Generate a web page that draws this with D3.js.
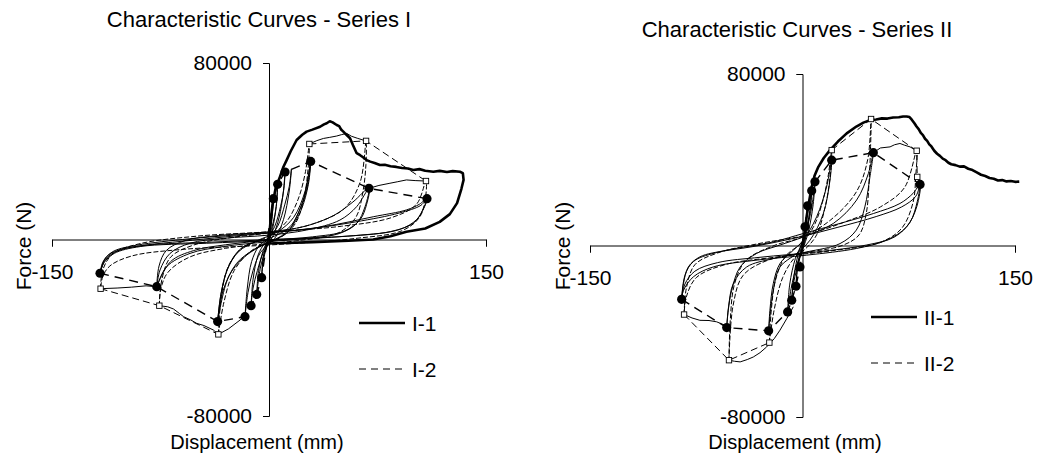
<!DOCTYPE html>
<html>
<head>
<meta charset="utf-8">
<script src="https://cdn.jsdelivr.net/npm/d3@7"></script>
<style>
body { margin: 0; background: #fff; }
text { font-family: "Liberation Sans", Arial, sans-serif; font-size: 21px; fill: #000; }
.titulo { font-size: 22px; }
.etiqueta { font-size: 20px; }
.domain, .tick line { stroke: #000; stroke-width: 1; }
</style>
</head>
<body>
<div id="chart"></div>
<script>
//Ticks
const dispTicks = [-150, 150]
const forceTicks = [-80000, 80000]

// ---------- Series I ----------
// hysteresis loops, specimen I-1 (thin solid)
const loopsI1 = [
  [[-116.8,-15300],[-115,-10500],[-111,-7000],[-102,-4500],[-85,-2500],[-60,-800],[-30,1200],[0,3000],[37.6,5800],[72,10300],[95,13400],[104,16000],[109.2,18500],[106.5,13500],[100,7500],[84,3600],[49,1300],[0,-500],[-43,-1700],[-89,-3200],[-107,-6300],[-114,-10500],[-116.8,-15300]],
  [[-116.8,-15300],[-114,-9500],[-108,-5500],[-95,-3000],[-60,0],[-20,2200],[20,4200],[60,8000],[90,12000],[105,15500],[109.2,18500],[107,14500],[102,9000],[90,4500],[60,1800],[10,200],[-40,-1200],[-85,-2600],[-104,-5000],[-113,-9000],[-116.8,-15300]],
  [[-77.6,-21400],[-75.3,-13800],[-68.4,-6300],[-54.6,-1700],[-31.6,500],[0,2000],[26,4300],[49,8800],[60.6,14900],[69.1,23200],[66.4,14900],[60.6,7300],[49,2800],[26,500],[0,-1000],[-31.6,-3200],[-54.6,-6300],[-70.7,-12300],[-77.6,-21400]],
  [[-77.6,-21400],[-76,-12000],[-71,-5000],[-58,-500],[-35,1800],[0,3500],[25,6000],[45,11000],[58,17000],[69.1,23200],[67.5,16000],[63,9000],[52,3800],[30,1200],[0,-300],[-30,-2400],[-52,-5000],[-68,-10000],[-77.6,-21400]],
  [[-35.5,-37200],[-32.7,-22900],[-27,-10800],[-17.7,-3200],[0,500],[14.5,5800],[23.7,17900],[28.8,35400],[26,22400],[19,10300],[12.2,2800],[0,-1000],[-10.8,-4700],[-22.4,-10800],[-31.6,-22900],[-35.5,-37200]],
  [[-35.5,-37200],[-33.5,-26000],[-29,-14000],[-21,-5500],[-8,-500],[6,3500],[17,10000],[25,22000],[28.8,35400],[27.2,25000],[22,13000],[14,4500],[3,-500],[-7,-3500],[-18,-8500],[-28,-17000],[-35.5,-37200]],
  [[-16.6,-35000],[-15,-22000],[-12,-10000],[-7,-3000],[0,1000],[6,6000],[11,16000],[14,24000],[15.5,32000],[14,22000],[10,9000],[5,1500],[0,-2000],[-6,-6000],[-11,-14000],[-14.5,-24000],[-16.6,-35000]],
  [[-12.4,-30000],[-11,-18000],[-7.5,-7000],[-3,-1500],[0,1500],[4,6000],[8,15000],[10.3,23000],[11.1,30600],[9.8,21000],[7,10000],[3,2000],[0,-1500],[-4,-6000],[-8,-14000],[-11,-22000],[-12.4,-30000]],
  [[-8.5,-24900],[-7.2,-14000],[-4,-5000],[0,1000],[3,8000],[5,15000],[6,25000],[5,15000],[2.5,5000],[0,-1000],[-3,-6000],[-6,-13000],[-8.5,-24900]],
  [[-5.1,-17300],[-4,-8000],[-1.5,-1500],[0,2000],[1.5,8000],[3,18500],[2,9000],[0,1000],[-2,-4000],[-4,-10000],[-5.1,-17300]]
]
// last excursion of I-1 (thick)
const finalI1 = [[0,0],[1,8000],[2.5,16000],[4.5,23000],[7.6,28500],[10,33000],[12.2,36000],[15,40000],[19.1,45100],[23,47500],[26,48900],[30,49800],[35.3,51100],[38,52200],[39.9,52700],[42,53600],[44,53100],[46.8,51900],[48.5,51400],[50,49700],[51.4,48900],[53,47800],[56,45900],[58,42800],[60.6,39100],[63,38200],[65,37300],[67.5,36000],[70,35300],[73,34700],[76.7,33800],[80,33900],[84,33200],[88,32900],[92,32400],[96,32200],[99.8,31500],[104,31900],[108,31200],[113.6,30700],[118,31100],[123,30600],[127,31000],[132,30700],[134,30100],[134.5,27000],[133,23000],[130,16500],[125,11500],[118,8000],[108,5000],[95,3500],[84,1500],[72,0],[55,-600],[30,-1200],[0,-1800]]
// hysteresis loops, specimen I-2 (thin dashed)
const loopsI2 = [
  [[-116.4,-22300],[-115,-14000],[-108,-6500],[-90,-2000],[-50,1500],[0,3500],[50,6000],[85,10000],[102,16000],[108.5,26500],[108,18000],[104,10000],[92,4000],[60,500],[0,-2500],[-60,-4500],[-95,-7500],[-110,-12000],[-115,-17000],[-116.4,-22300]],
  [[-75.8,-30000],[-74,-18000],[-68,-8000],[-52,-2500],[-25,1000],[0,3000],[30,7000],[52,14000],[63,26000],[67.1,44700],[67,34000],[65,22000],[60,10000],[48,3000],[20,-500],[0,-1800],[-30,-4000],[-55,-8000],[-70,-15000],[-75,-23000],[-75.8,-30000]],
  [[-35,-43000],[-33,-26000],[-28,-12000],[-18,-3500],[0,1500],[12,8000],[20,18000],[25,30000],[27.9,43300],[27,32000],[24,18000],[18,7000],[8,1000],[0,-1500],[-12,-5000],[-24,-14000],[-31,-28000],[-35,-43000]]
]
// raw traces between the peaks (thin, jagged)
const tracesI = [
  [[-116.4,-22300],[-105,-22000],[-95,-21600],[-85,-21000],[-77.6,-21400]],
  [[-75.8,-30000],[-70,-30500],[-66,-31500],[-62,-33500],[-59,-35000],[-54,-36500],[-50,-38000],[-45,-39000],[-38.5,-41000],[-35,-43000],[-28,-40500],[-20,-36500],[-15.4,-33500]],
  [[27.9,43300],[33,44800],[37.6,45800],[42,46300],[46.8,46900],[50,47500],[53.7,48100],[57,46800],[61,45900],[66.4,44800]],
  [[69.1,23200],[76,24500],[83.6,25500],[89,26200],[95,27000],[101,26700],[108.5,26500]]
]
const circlesI = [[-116.8,-15300],[-77.6,-21400],[-35.5,-37200],[-16.6,-35000],[-12.4,-30000],[-8.5,-24900],[-5.1,-17300],[3,18500],[6,25000],[11.1,30600],[28.8,35400],[69.1,23200],[109.2,18500]]
const squaresNegI = [[-116.4,-22300],[-75.8,-30000],[-35,-43000]]
const squaresPosI = [[27.9,43300],[67.1,44700],[108.5,26500]]

// ---------- Series II ----------
const loopsII1 = [
  [[-85.3,-25100],[-84,-17700],[-80.6,-10000],[-72.4,-5300],[-53.5,-2200],[-20.6,1700],[0.6,5600],[26.5,10300],[50,14900],[68.8,19600],[78,24300],[83,28500],[80.6,18000],[73.5,8700],[59.4,2500],[38,-1400],[3,-4500],[-32,-6800],[-63,-10000],[-77,-14600],[-84,-20900],[-85.3,-25100]],
  [[-85.3,-25100],[-83,-14000],[-77,-7500],[-62,-3500],[-35,-500],[-5,3500],[25,8500],[52,13500],[70,18000],[80,23000],[83,28500],[81,20500],[76,11000],[65,4000],[45,200],[10,-3000],[-30,-5500],[-60,-8000],[-76,-12000],[-83,-18000],[-85.3,-25100]],
  [[-53.5,-38300],[-52.4,-30200],[-50,-20900],[-44,-10000],[-32.4,-3700],[-15.9,200],[0.6,4000],[21.8,10300],[38.2,21200],[46.5,33600],[50,43300],[47.6,32000],[44,18000],[38,7200],[26.5,900],[3,-3000],[-20.6,-6100],[-39.4,-10000],[-48.8,-17700],[-52.2,-28600],[-53.5,-38300]],
  [[-23.9,-39800],[-23,-30200],[-20.6,-17700],[-15.9,-8400],[-6.5,-2200],[0.6,2500],[10,13400],[17,27400],[20.6,39800],[19.4,30500],[14.7,14900],[5.3,2500],[-4.1,-3700],[-15.9,-10000],[-20.6,-20900],[-23.9,-39800]],
  [[-10.5,-31000],[-9,-18000],[-5,-6000],[0,1500],[4,10000],[7,20000],[8.8,29700],[7.5,19000],[4,6000],[0,-2000],[-4,-9000],[-8,-20000],[-10.5,-31000]],
  [[-7.6,-25500],[-6,-14000],[-3,-4000],[0,2000],[3,9000],[5.5,17000],[6.5,25500],[5,15000],[2,3000],[-1,-3500],[-4,-11000],[-6.5,-18000],[-7.6,-25500]],
  [[-4.6,-19000],[-3.5,-9000],[-1,-1500],[1,4000],[2.5,11000],[3.6,18500],[2.5,10000],[0.5,1000],[-2,-6000],[-3.8,-12500],[-4.6,-19000]]
]
const finalII1 = [[0,0],[1.5,6000],[2.9,13400],[4.5,20000],[6.5,27400],[8.5,32500],[11.2,36700],[15,40800],[19.4,44500],[25,48500],[31.2,52300],[38,55500],[43,57300],[47.6,58500],[52,58800],[56,59300],[60,59200],[64,59700],[68,59800],[71,60200],[73.5,60200],[75.5,59900],[77,58800],[79,57000],[80.5,55500],[82,54300],[83.5,52500],[85,51500],[86.5,49800],[88,48800],[89.5,47200],[91,46200],[93,44200],[95,42800],[97,41800],[99,40500],[101,39800],[103,38600],[105,37900],[108,37500],[111,36800],[114,36900],[117,35800],[120,35200],[123,34100],[126,33000],[129,32400],[132,31500],[135,31100],[138,30300],[141,30500],[144,29900],[147,30100],[150,29700],[153,29800]]
const loopsII2 = [
  [[-83.6,-32200],[-82,-20000],[-76,-9000],[-60,-3500],[-30,1000],[0,4500],[30,11000],[55,18000],[72,27000],[80.6,44200],[80,33000],[78,20000],[70,8000],[55,1500],[20,-2500],[-20,-5500],[-55,-9000],[-75,-15000],[-82,-24000],[-83.6,-32200]],
  [[-51.9,-53500],[-51,-35000],[-48,-18000],[-40,-7000],[-20,0],[0,4000],[20,12000],[38,25000],[46,40000],[48.4,59000],[48,45000],[47,30000],[45,15000],[40,5000],[28,0],[0,-3500],[-25,-7000],[-42,-14000],[-49,-28000],[-51.9,-53500]],
  [[-23.4,-45300],[-22,-30000],[-19,-16000],[-12,-5000],[0,1500],[8,9000],[14,20000],[18,32000],[20.6,44500],[19.5,32000],[16,18000],[10,5000],[3,-1000],[-6,-6000],[-14,-15000],[-20,-30000],[-23.4,-45300]]
]
const tracesII = [
  [[-83.6,-32200],[-78,-33800],[-72.4,-34900],[-66,-35000],[-60.6,-35600],[-54.7,-37200],[-53.5,-38300]],
  [[-51.9,-53500],[-48,-54000],[-44,-54300],[-39,-53200],[-34.7,-52000],[-30,-50000],[-25.3,-47300],[-20,-43500],[-15.9,-39500],[-11,-34000],[-6.5,-28600]],
  [[50,43300],[55,45500],[61.8,46000],[65,47000],[68.8,47600],[72,46800],[75.9,46000],[80.6,44200]]
]
const circlesII = [[-85.3,-25100],[-53.5,-38300],[-23.9,-39800],[-10.5,-31000],[-7.6,-25500],[-4.6,-19000],[-1.8,-10000],[1.8,8700],[3.6,18500],[6.5,25500],[8.8,29700],[20.6,39800],[50,43300],[83,28500]]
const squaresNegII = [[-83.6,-32200],[-51.9,-53500],[-23.4,-45300]]
const squaresPosII = [[20.6,44500],[48.4,59000],[80.6,44200],[81,32000]]

//svg
const svg = d3.select("#chart")
    .append("svg")
    .attr("width", 1037)
    .attr("height", 454)

function drawChart(c) {
    const x = d3.scaleLinear().domain([-150, 150]).range(c.xRange)
    const y = d3.scaleLinear().domain([-80000, 80000]).range(c.yRange)
    const g = svg.append("g")

    const smooth = d3.line().x(d => x(d[0])).y(d => y(d[1])).curve(d3.curveCatmullRom.alpha(0.5))
    const jag = d3.line().x(d => x(d[0])).y(d => y(d[1]))

    //Ejes
    g.append("g")
        .attr("transform", `translate(0, ${y(0)})`)
        .call(d3.axisBottom(x).tickValues(dispTicks).tickSize(7).tickSizeOuter(7).tickPadding(18).tickFormat(d => d))
    g.append("g")
        .attr("transform", `translate(${x(0)}, 0)`)
        .call(d3.axisLeft(y).tickValues(forceTicks).tickSize(6).tickSizeOuter(6).tickPadding(11).tickFormat(d => d))
        .selectAll(".tick text").attr("dy", "0.33em")

    const curves = g.append("g").attr("fill", "none").attr("stroke", "#000")

    curves.selectAll(".loop2")
        .data(c.loops2).enter().append("path")
        .attr("d", smooth)
        .attr("stroke-width", 1)
        .attr("stroke-dasharray", "5,2")
    curves.selectAll(".loop1")
        .data(c.loops1).enter().append("path")
        .attr("d", smooth)
        .attr("stroke-width", 1)
    curves.selectAll(".trace")
        .data(c.traces).enter().append("path")
        .attr("d", jag)
        .attr("stroke-width", 1)
    curves.append("path")
        .datum(c.final1)
        .attr("d", jag)
        .attr("stroke-width", 2.6)
        .attr("stroke-linejoin", "round")

    // envelopes
    curves.append("path").datum(c.circles).attr("d", jag)
        .attr("stroke-width", 1.4).attr("stroke-dasharray", "9,6")
    curves.selectAll(".sqEnv").data([c.squaresNeg, c.squaresPos]).enter().append("path")
        .attr("d", jag).attr("stroke-width", 1).attr("stroke-dasharray", "7,4")

    g.selectAll(".circ").data(c.circles).enter().append("circle")
        .attr("cx", d => x(d[0])).attr("cy", d => y(d[1])).attr("r", 4.6).attr("fill", "#000")
    g.selectAll(".sq").data(c.squaresNeg.concat(c.squaresPos)).enter().append("rect")
        .attr("x", d => x(d[0]) - 2.7).attr("y", d => y(d[1]) - 2.7)
        .attr("width", 5.4).attr("height", 5.4)
        .attr("fill", "#fff").attr("stroke", "#000").attr("stroke-width", 0.9)

    //Textos
    g.append("text").attr("class", "titulo").attr("x", c.titleX).attr("y", c.titleY)
        .attr("text-anchor", "middle").text(c.title)
    g.append("text").attr("class", "etiqueta").attr("x", c.titleX - 2).attr("y", 449)
        .attr("text-anchor", "middle").text("Displacement (mm)")
    g.append("text").attr("transform", `translate(${c.forceX}, 246) rotate(-90)`)
        .attr("text-anchor", "middle").text("Force (N)")

    //Leyenda
    const leyenda = g.append("g").attr("transform", `translate(${c.legX}, ${c.legY})`)
    leyenda.append("line").attr("x1", 0).attr("x2", 46).attr("y1", 0).attr("y2", 0)
        .attr("stroke", "#000").attr("stroke-width", 2.6)
    leyenda.append("line").attr("x1", 0).attr("x2", 46).attr("y1", 46).attr("y2", 46)
        .attr("stroke", "#000").attr("stroke-width", 1).attr("stroke-dasharray", "7,5")
    leyenda.append("text").attr("x", 53).attr("y", 0).attr("dy", "0.36em").text(c.names[0])
    leyenda.append("text").attr("x", 53).attr("y", 46).attr("dy", "0.36em").text(c.names[1])
}

drawChart({
    xRange: [52, 486], yRange: [416, 63],
    loops1: loopsI1, loops2: loopsI2, traces: tracesI, final1: finalI1,
    circles: circlesI, squaresNeg: squaresNegI, squaresPos: squaresPosI,
    title: "Characteristic Curves - Series I", titleX: 259, titleY: 27,
    forceX: 31, legX: 359, legY: 323, names: ["I-1", "I-2"]
})
drawChart({
    xRange: [590, 1015], yRange: [417, 74],
    loops1: loopsII1, loops2: loopsII2, traces: tracesII, final1: finalII1,
    circles: circlesII, squaresNeg: squaresNegII, squaresPos: squaresPosII,
    title: "Characteristic Curves - Series II", titleX: 797, titleY: 37,
    forceX: 570, legX: 871, legY: 317, names: ["II-1", "II-2"]
})
</script>
</body>
</html>
